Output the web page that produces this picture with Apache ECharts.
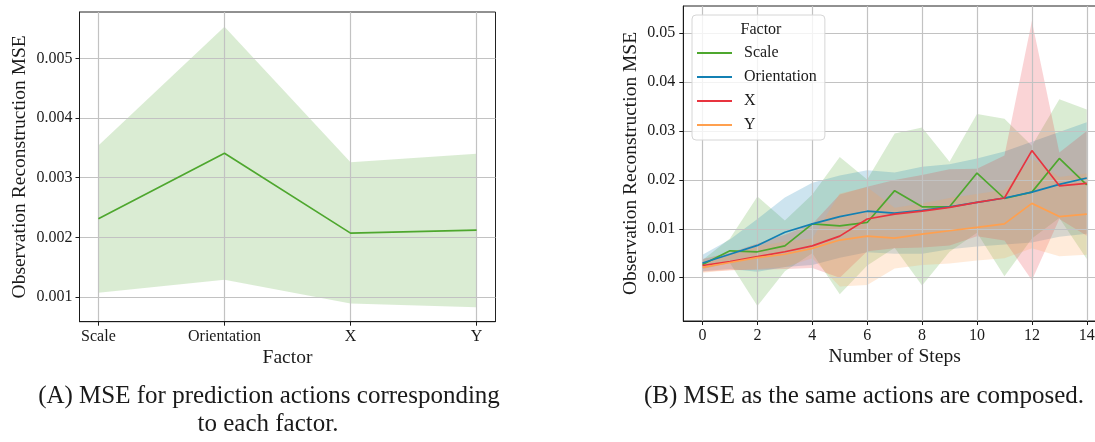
<!DOCTYPE html>
<html>
<head>
<meta charset="utf-8">
<script src="https://cdn.jsdelivr.net/npm/echarts@6/dist/echarts.min.js"></script>
<style>
  html, body { margin: 0; padding: 0; background: #fff; overflow: hidden; }
  #chart { width: 1095px; height: 442px; }
</style>
</head>
<body>
<div id="chart"></div>
<script>
// (A) MSE for prediction actions per factor
const factors = ['Scale', 'Orientation', 'X', 'Y'];
const factorMean = [0.00231, 0.00341, 0.00207, 0.00212];
const factorUpper = [0.00354, 0.00553, 0.00326, 0.00340];
const factorLower = [0.00107, 0.00129, 0.00089, 0.00083];
const factorTicks = [0.001, 0.002, 0.003, 0.004, 0.005];

// (B) MSE as the same actions are composed
const steps = [0, 1, 2, 3, 4, 5, 6, 7, 8, 9, 10, 11, 12, 13, 14];
const stepTicks = [0, 2, 4, 6, 8, 10, 12, 14];
const mseTicks = [0, 0.01, 0.02, 0.03, 0.04, 0.05];

const scaleMean  = [0.0027, 0.0055, 0.0053, 0.0065, 0.0110, 0.0106, 0.0113, 0.0178, 0.0145, 0.0145, 0.0214, 0.0162, 0.0175, 0.0244, 0.0190];
const scaleUpper = [0.0036, 0.0080, 0.0166, 0.0117, 0.0170, 0.0247, 0.0201, 0.0295, 0.0307, 0.0237, 0.0335, 0.0325, 0.0270, 0.0365, 0.0344];
const scaleLower = [0.0018, 0.0030, -0.0058, 0.0013, 0.0050, -0.0034, 0.0025, 0.0061, -0.0016, 0.0053, 0.0092, 0.0003, 0.0080, 0.0122, 0.0038];

const orientMean  = [0.0030, 0.0048, 0.0066, 0.0093, 0.0110, 0.0125, 0.0136, 0.0132, 0.0138, 0.0145, 0.0154, 0.0163, 0.0175, 0.0191, 0.0204];
const orientUpper = [0.0047, 0.0078, 0.0120, 0.0164, 0.0194, 0.0209, 0.0220, 0.0215, 0.0227, 0.0232, 0.0244, 0.0258, 0.0278, 0.0298, 0.0318];
const orientLower = [0.0013, 0.0018, 0.0012, 0.0022, 0.0026, 0.0041, 0.0052, 0.0049, 0.0049, 0.0058, 0.0064, 0.0068, 0.0072, 0.0084, 0.0090];

const xMean  = [0.0025, 0.0033, 0.0043, 0.0053, 0.0065, 0.0085, 0.0120, 0.0130, 0.0136, 0.0144, 0.0154, 0.0163, 0.0260, 0.0188, 0.0193];
const xUpper = [0.0038, 0.0051, 0.0070, 0.0088, 0.0110, 0.0170, 0.0186, 0.0200, 0.0210, 0.0222, 0.0223, 0.0250, 0.0525, 0.0256, 0.0300];
const xLower = [0.0012, 0.0015, 0.0016, 0.0018, 0.0020, 0.0000, 0.0054, 0.0060, 0.0062, 0.0066, 0.0085, 0.0076, -0.0005, 0.0120, 0.0086];

const yMean  = [0.0021, 0.0031, 0.0041, 0.0048, 0.0060, 0.0077, 0.0085, 0.0081, 0.0089, 0.0096, 0.0103, 0.0110, 0.0152, 0.0125, 0.0130];
const yUpper = [0.0032, 0.0047, 0.0064, 0.0074, 0.0080, 0.0172, 0.0185, 0.0143, 0.0152, 0.0163, 0.0171, 0.0180, 0.0244, 0.0206, 0.0213];
const yLower = [0.0010, 0.0015, 0.0018, 0.0022, 0.0040, -0.0018, -0.0015, 0.0019, 0.0026, 0.0029, 0.0035, 0.0040, 0.0060, 0.0044, 0.0047];

const GREEN = '#4ea72e', BLUE = '#1380b3', RED = '#e8343f', ORANGE = '#ffa04f';
const FONT = 'Liberation Serif';
const INK = '#1a1a1a';

function rgba(hex, a) {
  const n = parseInt(hex.slice(1), 16);
  return 'rgba(' + (n >> 16) + ',' + ((n >> 8) & 255) + ',' + (n & 255) + ',' + a + ')';
}

// error band drawn as one polygon: upper edge left->right, lower edge back
function band(xs, lower, upper, color, gridIdx) {
  return {
    type: 'custom', xAxisIndex: gridIdx, yAxisIndex: gridIdx, silent: true, z: 1,
    data: xs.map((x, i) => [x, lower[i], upper[i]]),
    encode: { x: 0, y: [1, 2] },
    renderItem: function (params, api) {
      if (params.dataIndex !== 0) return;
      const top = xs.map((x, i) => api.coord([x, upper[i]]));
      const bot = xs.map((x, i) => api.coord([x, lower[i]])).reverse();
      return {
        type: 'polygon',
        shape: { points: top.concat(bot) },
        style: { fill: rgba(color, 0.21) }
      };
    }
  };
}

function meanLine(name, xs, ys, color, gridIdx) {
  return {
    name: name, type: 'line', xAxisIndex: gridIdx, yAxisIndex: gridIdx,
    showSymbol: false, z: 3, color: color,
    lineStyle: { color: color, width: 1.7 },
    data: xs.map((x, i) => [x, ys[i]])
  };
}

const factorIdx = factors.map((f, i) => i);

const tickStyle = { show: true, length: 4, lineStyle: { color: INK, width: 1 } };
const labelStyle = { color: INK, fontFamily: FONT, fontSize: 16 };
const nameStyle = { color: INK, fontFamily: FONT, fontSize: 19.5 };
const gridLine = { show: true, lineStyle: { color: '#c2c2c2', width: 1.2 } };
const spine = { show: true, onZero: false, lineStyle: { color: INK } };

const chart = echarts.init(document.getElementById('chart'), null, { renderer: 'canvas' });

const capFont = '25px "Liberation Serif"';

const option = {
  animation: false,
  backgroundColor: '#fff',
  textStyle: { fontFamily: FONT },
  grid: [
    { left: 79.5, right: 599.5, top: 12, bottom: 120.3, show: true, borderColor: '#222', borderWidth: 1,
      containLabel: false, outerBoundsMode: 'none', z: 0 },
    { left: 683.3, right: -11, top: 6, bottom: 121, show: true, borderColor: '#222', borderWidth: 1,
      containLabel: false, outerBoundsMode: 'none', z: 0 }
  ],
  // axes sit above the bands so grid lines show through, but under the mean lines
  xAxis: [
    {
      gridIndex: 0, type: 'value', min: -0.15, max: 3.15, z: 2,
      name: 'Factor', nameLocation: 'middle', nameGap: 26, nameTextStyle: nameStyle, nameMoveOverlap: false,
      axisLine: spine,
      axisTick: Object.assign({ customValues: factorIdx }, tickStyle),
      axisLabel: Object.assign({ customValues: factorIdx, margin: 7, formatter: v => factors[v] }, labelStyle),
      splitLine: gridLine
    },
    {
      gridIndex: 1, type: 'value', min: -0.7, max: 14.7, z: 2,
      name: 'Number of Steps', nameLocation: 'middle', nameGap: 26, nameTextStyle: nameStyle, nameMoveOverlap: false,
      axisLine: spine,
      axisTick: Object.assign({ customValues: stepTicks }, tickStyle),
      axisLabel: Object.assign({ customValues: stepTicks, margin: 7, formatter: v => String(v) }, labelStyle),
      splitLine: gridLine
    }
  ],
  yAxis: [
    {
      gridIndex: 0, type: 'value', min: 0.000586, max: 0.005776, z: 2,
      name: 'Observation Reconstruction MSE', nameLocation: 'middle', nameGap: 50, nameTextStyle: nameStyle, nameMoveOverlap: false,
      axisLine: spine,
      axisTick: Object.assign({ customValues: factorTicks }, tickStyle),
      axisLabel: Object.assign({ customValues: factorTicks, margin: 7, formatter: v => v.toFixed(3) }, labelStyle),
      splitLine: gridLine
    },
    {
      gridIndex: 1, type: 'value', min: -0.00886, max: 0.05558, z: 2,
      name: 'Observation Reconstruction MSE', nameLocation: 'middle', nameGap: 42, nameTextStyle: nameStyle, nameMoveOverlap: false,
      axisLine: spine,
      axisTick: Object.assign({ customValues: mseTicks }, tickStyle),
      axisLabel: Object.assign({ customValues: mseTicks, margin: 8, formatter: v => v.toFixed(2) }, labelStyle),
      splitLine: gridLine
    }
  ],
  legend: {
    data: ['Scale', 'Orientation', 'X', 'Y'],
    orient: 'vertical', left: 692, top: 15, z: 20,
    icon: 'rect', itemWidth: 35, itemHeight: 2.2, itemGap: 8,
    padding: [30, 8, 7, 5],
    backgroundColor: 'rgba(255,255,255,0.8)', borderColor: '#d6d6d6', borderWidth: 1, borderRadius: 4,
    selectedMode: false,
    textStyle: { color: INK, fontFamily: FONT, fontSize: 16, lineHeight: 16, padding: [0, 0, 0, 7] }
  },
  graphic: [
    { type: 'text', x: 761, y: 29.5, z: 30,
      style: { text: 'Factor', fill: INK, font: '16px "Liberation Serif"', align: 'center', verticalAlign: 'middle' } },
    { type: 'text', x: 269, y: 396, z: 30,
      style: { text: '(A) MSE for prediction actions corresponding', fill: INK, font: capFont, align: 'center', verticalAlign: 'middle' } },
    { type: 'text', x: 268, y: 424, z: 30,
      style: { text: 'to each factor.', fill: INK, font: capFont, align: 'center', verticalAlign: 'middle' } },
    { type: 'text', x: 864, y: 396, z: 30,
      style: { text: '(B) MSE as the same actions are composed.', fill: INK, font: capFont, align: 'center', verticalAlign: 'middle' } }
  ],
  series: [
    band(factorIdx, factorLower, factorUpper, GREEN, 0),
    meanLine('Factor mean', factorIdx, factorMean, GREEN, 0),
    band(steps, scaleLower, scaleUpper, GREEN, 1),
    band(steps, orientLower, orientUpper, BLUE, 1),
    band(steps, xLower, xUpper, RED, 1),
    band(steps, yLower, yUpper, ORANGE, 1),
    meanLine('Scale', steps, scaleMean, GREEN, 1),
    meanLine('Orientation', steps, orientMean, BLUE, 1),
    meanLine('X', steps, xMean, RED, 1),
    meanLine('Y', steps, yMean, ORANGE, 1)
  ]
};

chart.setOption(option);
</script>
</body>
</html>
